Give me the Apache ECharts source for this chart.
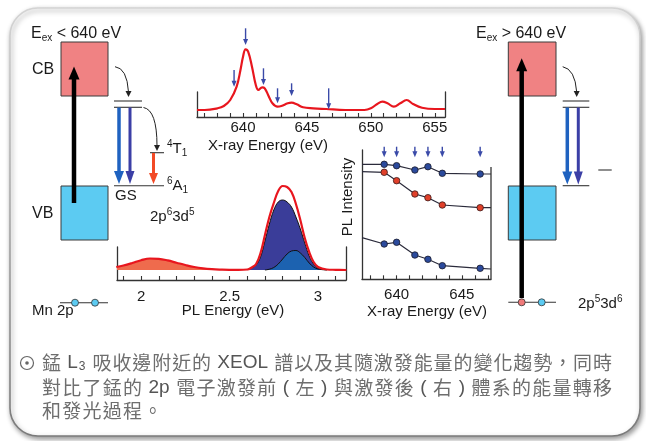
<!DOCTYPE html>
<html><head><meta charset="utf-8">
<script src="https://cdn.jsdelivr.net/npm/echarts@6/dist/echarts.min.js"></script>
<style>html,body{margin:0;padding:0;background:#fff}#c{width:646px;height:441px}</style>
</head><body><div id="c"></div>
<script>
// ---------- DATA ----------
// XAS (top) spectrum: X-ray energy (eV) vs intensity (relative units)
const xasEnergy = [636.4,637,638,638.5,639,639.5,639.8,640,640.2,640.4,640.7,641,641.2,641.5,641.7,642,642.3,642.7,643,643.5,643.8,644.2,644.7,645.5,646.5,648,649.5,650,650.5,650.9,651.3,651.8,652.3,652.8,653.3,654,655,655.8];
const xasIntensity = [7,7,8.7,11,17,30.3,47,60.3,67.7,65.3,50.3,32,27,29.7,28.7,21,13.7,10.3,11,13.7,14.3,12.7,9.7,8.7,8,7,7,8.7,13,15.3,13.7,10.3,13.7,17,13,9.3,8,8];
const xasArrowEnergy = [639.3,640.2,641.6,642.7,643.8,646.7];
const xasArrowTop = [47,88.7,48.7,28.7,33.7,28.7];
const xasArrowEnd = [30.3,72,32,13.7,21,7.7];
const xasTicks = [637,638,639,640,641,642,643,644,645,646,647,648,649,650,651,652,653,654,655];
const xasLabels = [640,645,650,655];

// PL spectrum: PL energy (eV)
const plEnergy = [1.86,1.9,1.95,2.0,2.05,2.1,2.15,2.2,2.25,2.3,2.35,2.4,2.45,2.5,2.55,2.6,2.625,2.65,2.675,2.7,2.725,2.75,2.775,2.8,2.825,2.85,2.875,2.9,2.925,2.95,2.975,3.0,3.05,3.1,3.16];
const plTotal = [3,4.5,7,9.8,11.5,11.2,9.6,7.3,5,3,1.6,0.8,0.4,0.2,0.2,0.5,2.5,6,17,35,53,67,79,84,83,78,66,50,32,18,8,3,0.5,0.2,0];
const plLowBandEnd = 2.55;
const plMainEnergy = [2.6,2.625,2.65,2.675,2.7,2.725,2.75,2.775,2.8,2.825,2.85,2.875,2.9,2.925,2.95,2.975,3.0,3.05];
const plMain = [0.3,2,5,13,29,46,60,68,70,68,63,53,41,27,14,6,2,0.3];
const plSideEnergy = [2.7,2.725,2.75,2.775,2.8,2.825,2.85,2.875,2.9,2.925,2.95,2.975,3.0,3.05];
const plSide = [0,0.8,2.5,6,11,16,19,19.5,17,12.5,7,3,1,0];
const plTicks = [1.9,2.0,2.1,2.2,2.3,2.4,2.5,2.6,2.7,2.8,2.9,3.0,3.1];
const plLabels = [2,2.5,3];

// PL intensity vs excitation energy (right panel)
const excEnergy = [639.05,640.0,641.4,642.4,643.5,646.4];
const bandBlueHigh = [115,113.6,109.3,112.6,106,105.3];
const bandRed = [107,98.6,85.3,81.6,74.3,71.6];
const bandBlueLow = [35.3,37,24.3,20,13.6,11];
const bandStartAtAxis = [115,107.6,41.6];
const bandEndAtAxis = [105.3,71.6,10.3];
const excArrowTop = 132.6, excArrowEnd = 122;
const excTicks = [638,639,640,641,642,643,644,645,646,647];
const excLabels = [640,645];

// ---------- STYLE ----------
const FONT = "'Liberation Sans', Arial, Helvetica, sans-serif";
const CJK = "'Noto Sans CJK TC', 'Noto Sans CJK SC', sans-serif";
const AX = '#333';
const mctx = document.createElement('canvas').getContext('2d');
function tw(t, size, weight, fam){ mctx.font = (weight||'normal')+' '+size+'px '+fam; return mctx.measureText(t).width; }
function T(x,y,t,size,opt){ opt=opt||{}; return {type:'text',x:x,y:y,z:5,style:{text:t,fontSize:size,fontFamily:opt.fam||FONT,fontWeight:opt.weight||'normal',fill:opt.color||'#1a1a1a',align:opt.align||'left',verticalAlign:'middle'}}; }
function flow(x,y,segs,base){
  const out=[]; let cx=x;
  segs.forEach(s=>{
    const size=s.size||base.size, fam=s.fam||base.fam||FONT, w=s.weight||base.weight||'normal', col=s.color||base.color||'#1a1a1a';
    out.push(T(cx,y+(s.dy||0),s.t,size,{fam:fam,weight:w,color:col}));
    cx+=tw(s.t,size,w,fam);
  });
  return out;
}
function justify(x,y,segs,base,target,gapOverride){
  const units=[];
  segs.forEach(s=>{
    const fam=s.fam||base.fam;
    if(fam===CJK){ for(const ch of s.t) units.push(Object.assign({},s,{t:ch})); }
    else units.push(s);
  });
  let nat=0; const ws=units.map(u=>{const w=tw(u.t,u.size||base.size,u.weight||base.weight||'normal',u.fam||base.fam); nat+=w; return w;});
  const gap = gapOverride!==undefined?gapOverride:(target-x-nat)/(units.length-1);
  const out=[]; let cx=x;
  units.forEach((u,i)=>{
    out.push(T(cx,y+(u.dy||0),u.t,u.size||base.size,{fam:u.fam||base.fam,weight:u.weight||base.weight,color:u.color||base.color}));
    cx+=ws[i]+gap;
  });
  return {els:out,gap:gap};
}
function Ln(x1,y1,x2,y2,c,w){return {type:'line',z:4,shape:{x1:x1,y1:y1,x2:x2,y2:y2},style:{stroke:c||'#333',lineWidth:w||1.1}};}
function Rc(x,y,w,h,f){return {type:'rect',z:3,shape:{x:x,y:y,width:w,height:h},style:{fill:f,stroke:'#3a3a3a',lineWidth:1}};}
function Ci(x,y,r,f){return {type:'circle',z:6,shape:{cx:x,cy:y,r:r},style:{fill:f,stroke:'#333',lineWidth:0.8}};}
function arrowV(x,y1,y2,c,w,hw,hh){
  const d=y2>y1?1:-1;
  return [ {type:'line',z:5,shape:{x1:x,y1:y1,x2:x,y2:y2-d*(hh-1)},style:{stroke:c,lineWidth:w}},
           {type:'polygon',z:5,shape:{points:[[x-hw/2,y2-d*hh],[x+hw/2,y2-d*hh],[x,y2]]},style:{fill:c}} ];
}
function curved(x1,y1,cx,cy,x2,y2){
  return [ {type:'bezierCurve',z:4,shape:{x1:x1,y1:y1,cpx1:cx,cpy1:cy,x2:x2,y2:y2},style:{stroke:'#222',lineWidth:1,fill:'none'}},
           {type:'polygon',z:4,shape:{points:[[x2-3,y2-1],[x2+3,y2-1],[x2,y2+5]]},style:{fill:'#222'}} ];
}
function arrowRender(color,lw,hw,hh){
  return function(params,api){
    const p1=api.coord([api.value(0),api.value(1)]);
    const p2=api.coord([api.value(0),api.value(2)]);
    return {type:'group',children:[
      {type:'line',shape:{x1:p1[0],y1:p1[1],x2:p2[0],y2:p2[1]-hh+1},style:{stroke:color,lineWidth:lw}},
      {type:'polygon',shape:{points:[[p2[0]-hw/2,p2[1]-hh],[p2[0]+hw/2,p2[1]-hh],[p2[0],p2[1]]]},style:{fill:color}}
    ]};
  };
}
const zip=(a,b)=>a.map((v,i)=>[v,b[i]]);

// ---------- GRAPHIC (schematics, frame, caption) ----------
const CBc='#f08283', VBc='#5ccbf2', BL1='#1f62c0', BL2='#3b3fa6', RED='#f24a26';
let g=[];
g.push({type:'rect',z:-10,shape:{x:10,y:8,width:630,height:428,r:28},
  style:{fill:'#fff',stroke:{type:'linear',x:0,y:0,x2:0,y2:1,colorStops:[{offset:0,color:'#d4d4d4'},{offset:1,color:'#7a7a7a'}]},lineWidth:1.6,
  shadowBlur:5,shadowOffsetX:1.5,shadowOffsetY:2.5,shadowColor:'rgba(0,0,0,0.4)'}});
// left scheme
g.push(...flow(31,34,[{t:'E'},{t:'ex',size:10,dy:4},{t:' < 640 eV'}],{size:16}));
g.push(Rc(61,42,47,54,CBc), Rc(61,186,47,54,VBc));
g.push(T(32,70,'CB',16), T(32,214,'VB',16));
g.push(...arrowV(74,203,66.5,'#000',4.5,11,13));
g.push(...curved(115,66.7,127,68,128.5,92));
g.push(Ln(114,101,142,101), Ln(114,107.3,142,107.3));
g.push(...arrowV(119,107.5,184,BL1,3.5,10,13), ...arrowV(130,107.5,184,BL2,3,9,13));
g.push(...curved(143.5,107.5,157,110,157,146));
g.push(Ln(150,152.7,164,152.7));
g.push(...arrowV(153.5,153,184,RED,3,9,11));
g.push(Ln(114,185.7,164,185.7));
g.push(T(115,196,'GS',15));
g.push(...flow(167,149,[{t:'4',size:10,dy:-5},{t:'T'},{t:'1',size:10,dy:4}],{size:15}));
g.push(...flow(167,186,[{t:'6',size:10,dy:-5},{t:'A'},{t:'1',size:10,dy:4}],{size:15}));
g.push(...flow(150,217,[{t:'2p'},{t:'6',size:10,dy:-5},{t:'3d'},{t:'5',size:10,dy:-5}],{size:15}));
g.push(Ln(60,302.7,108,302.7), Ci(75,302.7,3.5,VBc), Ci(95,302.7,3.5,VBc));
g.push(T(32,311,'Mn 2p',15));
// right scheme
g.push(...flow(476,34,[{t:'E'},{t:'ex',size:10,dy:4},{t:' > 640 eV'}],{size:16}));
g.push(Rc(508.3,42,47.7,54,CBc), Rc(508.3,186,47.7,54,VBc));
g.push(...arrowV(521.7,298,58.3,'#000',4.5,11,13));
g.push(...curved(562.7,66.7,575,69,576.7,92));
g.push(Ln(562.7,101,589.3,101), Ln(562.7,107.3,589.3,107.3));
g.push(...arrowV(567.3,107.5,184.5,BL1,3.5,10,13), ...arrowV(578.3,107.5,184.5,BL2,3,9,13));
g.push(Ln(562.7,185.7,589.3,185.7), Ln(598.3,170,611.7,170));
g.push(Ln(508.3,302.3,556,302.3), Ci(521.7,302.3,3.5,'#f07a7a'), Ci(541.7,302.3,3.5,VBc));
g.push(...flow(578,304,[{t:'2p'},{t:'5',size:10,dy:-5},{t:'3d'},{t:'6',size:10,dy:-5}],{size:15}));
// axis titles
g.push(T(268,146,'X-ray Energy (eV)',15,{align:'center'}));
g.push(T(233,311,'PL Energy (eV)',15,{align:'center'}));
g.push(T(427,312,'X-ray Energy (eV)',15,{align:'center'}));
g.push({type:'text',x:348,y:197,rotation:Math.PI/2,z:5,style:{text:'PL Intensity',fontSize:15,fontFamily:FONT,fill:'#1a1a1a',align:'center',verticalAlign:'middle'}});
g.push(Ln(491,167,491,279.3,AX,1.3));
// caption
const capBase={size:19,fam:CJK,color:'#6e6e6e'};
const lat={fam:FONT,color:'#555'};
g.push({type:'circle',z:5,shape:{cx:27,cy:363,r:6.5},style:{fill:'none',stroke:'#666',lineWidth:1.2}});
g.push({type:'circle',z:5,shape:{cx:27,cy:363,r:1.8},style:{fill:'#666'}});
const l1=justify(42,363,[{t:'錳'},Object.assign({t:' L'},lat),Object.assign({t:'3',size:12,dy:4},lat),Object.assign({t:' '},lat),{t:'吸收邊附近的'},Object.assign({t:' XEOL '},lat),{t:'譜以及其隨激發能量的變化趨勢，同時'}],capBase,612);
const l2=justify(42,388,[{t:'對比了錳的'},Object.assign({t:' 2p '},lat),{t:'電子激發前'},Object.assign({t:' ( '},lat),{t:'左'},Object.assign({t:' ) '},lat),{t:'與激發後'},Object.assign({t:' ( '},lat),{t:'右'},Object.assign({t:' ) '},lat),{t:'體系的能量轉移'}],capBase,612);
const l3=justify(42,411,[{t:'和發光過程。'}],capBase,0,l2.gap);
g.push(...l1.els,...l2.els,...l3.els);

// ---------- CHART ----------
function xAx(grid,min,max,ticks,labels,margin){
  return {gridIndex:grid,type:'value',min:min,max:max,
    axisLine:{show:true,onZero:false,lineStyle:{color:AX,width:1.3}},
    axisTick:{show:true,inside:true,length:4,customValues:ticks,lineStyle:{color:AX,width:1.1}},
    axisLabel:{customValues:labels,margin:margin,fontSize:15,color:'#1a1a1a',fontFamily:FONT},
    splitLine:{show:false}};
}
function yAx(grid,min,max,pos,show){
  return {gridIndex:grid,type:'value',min:min,max:max,position:pos,
    axisLine:{show:show!==false,onZero:false,lineStyle:{color:AX,width:1.3}},
    axisTick:{show:false},axisLabel:{show:false},splitLine:{show:false}};
}
const lineS=(xi,yi,data,extra)=>Object.assign({type:'line',xAxisIndex:xi,yAxisIndex:yi,data:data,symbol:'none',clip:false,animation:false},extra);
function bandData(vals,start,end){
  return [{value:[637.35,start],symbol:'none',symbolSize:0}].concat(zip(excEnergy,vals)).concat([{value:[647.23,end],symbol:'none',symbolSize:0}]);
}
const lowE=plEnergy.filter(e=>e<=plLowBandEnd);
const option={
  animation:false,
  grid:[{left:197,top:92,width:248,height:25},{left:117,top:247,width:229,height:33},{left:362,top:150,width:129,height:129.3}],
  xAxis:[xAx(0,636.4,655.8,xasTicks,xasLabels,3),xAx(1,1.864,3.158,plTicks,plLabels,9),xAx(2,637.35,647.23,excTicks,excLabels,8)],
  yAxis:[yAx(0,0,25,'left'),yAx(0,0,25,'right'),yAx(1,-10,23,'left'),yAx(1,-10,23,'right'),yAx(2,0,129.3,'left')],
  series:[
    lineS(0,0,zip(xasEnergy,xasIntensity),{smooth:0.4,lineStyle:{color:'#e8161e',width:2.2}}),
    {type:'custom',xAxisIndex:0,yAxisIndex:0,data:xasArrowEnergy.map((e,i)=>[e,xasArrowTop[i],xasArrowEnd[i]]),renderItem:arrowRender('#3a4aa8',1.4,5,6),encode:{x:0,y:[1,2]},z:5},
    lineS(1,2,zip(lowE,plTotal.slice(0,lowE.length)),{smooth:0.4,lineStyle:{width:0},areaStyle:{color:'#ef6b4d',opacity:1}}),
    lineS(1,2,zip(plMainEnergy,plMain),{smooth:0.4,lineStyle:{color:'#111',width:1},areaStyle:{color:'#3a3d99',opacity:1}}),
    lineS(1,2,zip(plSideEnergy,plSide),{smooth:0.4,lineStyle:{color:'#111',width:1},areaStyle:{color:'#1c62b0',opacity:1}}),
    lineS(1,2,zip(plEnergy,plTotal),{smooth:0.4,lineStyle:{color:'#e8161e',width:2.2}}),
    lineS(2,4,bandData(bandBlueHigh,bandStartAtAxis[0],bandEndAtAxis[0]),{symbol:'circle',symbolSize:6.5,showAllSymbol:true,lineStyle:{color:'#2b2b3b',width:1.2},itemStyle:{color:'#2b4a9c',borderColor:'#1a1a2a',borderWidth:0.8}}),
    lineS(2,4,bandData(bandRed,bandStartAtAxis[1],bandEndAtAxis[1]),{symbol:'circle',symbolSize:6.5,showAllSymbol:true,lineStyle:{color:'#2b2b3b',width:1.2},itemStyle:{color:'#e0402a',borderColor:'#3a1a1a',borderWidth:0.8}}),
    lineS(2,4,bandData(bandBlueLow,bandStartAtAxis[2],bandEndAtAxis[2]),{symbol:'circle',symbolSize:6.5,showAllSymbol:true,lineStyle:{color:'#2b2b3b',width:1.2},itemStyle:{color:'#2b4a9c',borderColor:'#1a1a2a',borderWidth:0.8}}),
    {type:'custom',xAxisIndex:2,yAxisIndex:4,data:excEnergy.map(e=>[e,excArrowTop,excArrowEnd]),renderItem:arrowRender('#3a4aa8',1.4,5,6),encode:{x:0,y:[1,2]},z:5}
  ],
  graphic:{elements:g}
};
const chart=echarts.init(document.getElementById('c'),null,{renderer:'canvas'});
chart.setOption(option);
</script></body></html>
